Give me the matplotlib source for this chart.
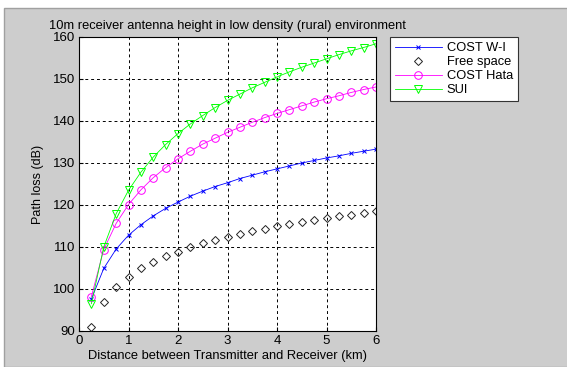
import matplotlib.pyplot as plt
from matplotlib.patches import Rectangle

plt.rcParams['font.family'] = ['Liberation Sans', 'DejaVu Sans']

# distance (km)
dist = [0.25, 0.5, 0.75, 1.0, 1.25, 1.5, 1.75, 2.0, 2.25, 2.5, 2.75, 3.0,
        3.25, 3.5, 3.75, 4.0, 4.25, 4.5, 4.75, 5.0, 5.25, 5.5, 5.75, 6.0]

# path loss (dB)
cost_wi = [97.6, 104.9, 109.5, 112.8, 115.3, 117.4, 119.2, 120.7, 122.1, 123.3, 124.4, 125.3,
           126.3, 127.1, 127.9, 128.6, 129.3, 130.0, 130.6, 131.2, 131.7, 132.3, 132.8, 133.3]
free_space = [90.9, 96.9, 100.4, 102.9, 104.9, 106.4, 107.8, 108.9, 109.9, 110.9, 111.7, 112.5,
              113.2, 113.8, 114.4, 115.0, 115.5, 116.0, 116.5, 116.9, 117.3, 117.7, 118.1, 118.5]
cost_hata = [98.2, 109.4, 115.6, 120.1, 123.6, 126.5, 128.9, 131.0, 132.8, 134.5, 135.9, 137.3,
             138.5, 139.7, 140.8, 141.8, 142.7, 143.6, 144.5, 145.3, 146.0, 146.8, 147.5, 148.1]
sui = [96.5, 110.0, 117.9, 123.5, 127.8, 131.4, 134.4, 137.0, 139.3, 141.3, 143.2, 144.9,
       146.4, 147.9, 149.2, 150.5, 151.7, 152.8, 153.8, 154.8, 155.8, 156.7, 157.5, 158.4]

W, H = 567, 367
fig = plt.figure(figsize=(W / 100, H / 100), dpi=100, facecolor='white')
# grey window area
fig.patches.append(Rectangle((4 / W, 0), 1, 1 - 8 / H, transform=fig.transFigure,
                             facecolor='#cdcdcd', edgecolor='#a0a0a0', linewidth=1, zorder=-5))

ax = fig.add_axes([79 / W, 1 - 331 / H, (376 - 79) / W, (331 - 37) / H])
ax.set_facecolor('white')

ax.plot(dist, cost_wi, '-x', color='blue', markersize=3.5, markeredgewidth=0.7,
        linewidth=0.6, label='COST W-I')
ax.plot(dist, free_space, 'D', color='#222222', markerfacecolor='none', markersize=4.5,
        markeredgewidth=0.7, linestyle='none', label='Free space')
ax.plot(dist, cost_hata, '-o', color='magenta', markerfacecolor='none', markersize=5.5,
        markeredgewidth=0.7, linewidth=0.6, label='COST Hata')
ax.plot(dist, sui, '-v', color='#00ff00', markerfacecolor='none', markersize=6,
        markeredgewidth=0.7, linewidth=0.6, label='SUI')

ax.set_xlim(0, 6)
ax.set_ylim(90, 160)
ax.set_xticks(range(0, 7))
ax.set_yticks(range(90, 161, 10))
ax.grid(True, color='black', linestyle=(0, (3, 3)), linewidth=0.7)
ax.tick_params(direction='in', length=3, labelsize=9.5, pad=3)
for s in ax.spines.values():
    s.set_linewidth(0.8)

ax.set_title('10m receiver antenna height in low density (rural) environment', fontsize=9.3, pad=6)
ax.set_xlabel('Distance between Transmitter and Receiver (km)', fontsize=9.3, labelpad=2)
ax.set_ylabel('Path loss (dB)', fontsize=9, labelpad=6)

leg = ax.legend(loc='upper left', bbox_to_anchor=(390 / W, 1 - 37 / H),
                bbox_transform=fig.transFigure, borderaxespad=0, fancybox=False,
                framealpha=1, edgecolor='#333333', fontsize=9.3, handlelength=3.6,
                labelspacing=0.15, borderpad=0.4, handletextpad=0.4)
leg.get_frame().set_linewidth(0.8)

fig.savefig('out.png', dpi=100, facecolor=fig.get_facecolor())
